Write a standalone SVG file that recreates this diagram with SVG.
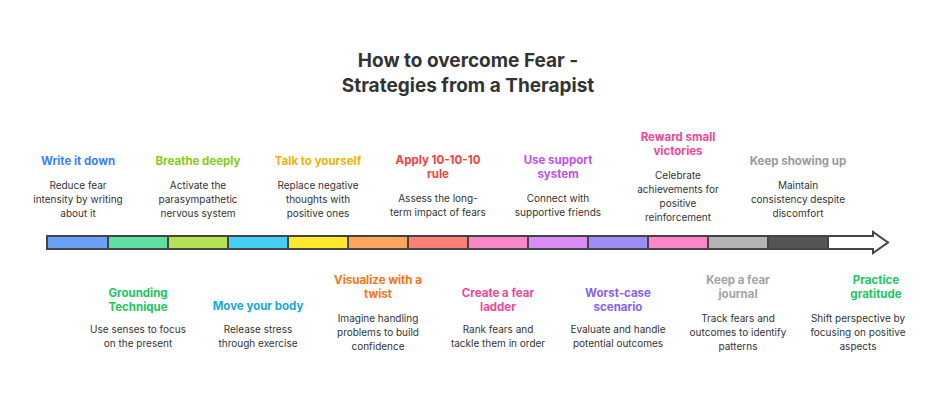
<svg xmlns="http://www.w3.org/2000/svg" width="936" height="402" viewBox="0 0 936 402">
<style>
text{font-family:Inter,"Liberation Sans",sans-serif;text-anchor:middle}
.t{font-size:19px;font-weight:700;fill:#333}
.h{font-size:11.5px;font-weight:700}
.d{font-size:10px;fill:#333}
.s{stroke:#444;stroke-width:0.8}
</style>
<rect width="936" height="402" fill="#fff"/>
<text class="t" x="468" y="67">How to overcome Fear -</text>
<text class="t" x="468" y="92">Strategies from a Therapist</text>
<g id="connectors">
<polygon points="47,236 873,236 873,232 888,242.5 873,253 873,249 47,249" fill="#fff" stroke="#444" stroke-width="2"/>
<rect x="48" y="237" width="60" height="11" fill="#6aa0f8"/>
<rect x="108" y="237" width="60" height="11" fill="#5ee0a0"/>
<rect x="168" y="237" width="60" height="11" fill="#b5e255"/>
<rect x="228" y="237" width="60" height="11" fill="#45cff5"/>
<rect x="288" y="237" width="60" height="11" fill="#fde82c"/>
<rect x="348" y="237" width="60" height="11" fill="#fda55a"/>
<rect x="408" y="237" width="60" height="11" fill="#fd7f78"/>
<rect x="468" y="237" width="60" height="11" fill="#fb86c8"/>
<rect x="528" y="237" width="60" height="11" fill="#d88cf6"/>
<rect x="588" y="237" width="60" height="11" fill="#9b8cf8"/>
<rect x="648" y="237" width="60" height="11" fill="#fb86c8"/>
<rect x="708" y="237" width="60" height="11" fill="#b3b3b3"/>
<rect x="768" y="237" width="60" height="11" fill="#555"/>
<path d="M108 236v13M168 236v13M228 236v13M288 236v13M348 236v13M408 236v13M468 236v13M528 236v13M588 236v13M648 236v13M708 236v13M768 236v13M828 236v13" stroke="#444" stroke-width="2"/>
</g>
<g id="n1"><text class="h" x="78" y="165" fill="#3b82f6">Write it down</text><text class="d" x="78" y="189">Reduce fear</text><text class="d" x="78" y="203">intensity by writing</text><text class="d" x="78" y="217">about it</text></g>
<g id="n2"><text class="h" x="138" y="297" fill="#22c55e">Grounding</text><text class="h" x="138" y="311" fill="#22c55e">Technique</text><text class="d" x="138" y="333">Use senses to focus</text><text class="d" x="138" y="347">on the present</text></g>
<g id="n3"><text class="h" x="198" y="165" fill="#84cc16">Breathe deeply</text><text class="d" x="198" y="189">Activate the</text><text class="d" x="198" y="203">parasympathetic</text><text class="d" x="198" y="217">nervous system</text></g>
<g id="n4"><text class="h" x="258" y="310" fill="#1aa9d8">Move your body</text><text class="d" x="258" y="333">Release stress</text><text class="d" x="258" y="347">through exercise</text></g>
<g id="n5"><text class="h" x="318" y="165" fill="#eab308">Talk to yourself</text><text class="d" x="318" y="189">Replace negative</text><text class="d" x="318" y="203">thoughts with</text><text class="d" x="318" y="217">positive ones</text></g>
<g id="n6"><text class="h" x="378" y="284" fill="#f97316">Visualize with a</text><text class="h" x="378" y="298" fill="#f97316">twist</text><text class="d" x="378" y="322">Imagine handling</text><text class="d" x="378" y="336">problems to build</text><text class="d" x="378" y="350">confidence</text></g>
<g id="n7"><text class="h" x="438" y="164" fill="#ef4444">Apply 10-10-10</text><text class="h" x="438" y="178" fill="#ef4444">rule</text><text class="d" x="438" y="202">Assess the long-</text><text class="d" x="438" y="216">term impact of fears</text></g>
<g id="n8"><text class="h" x="498" y="297" fill="#ec4899">Create a fear</text><text class="h" x="498" y="311" fill="#ec4899">ladder</text><text class="d" x="498" y="333">Rank fears and</text><text class="d" x="498" y="347">tackle them in order</text></g>
<g id="n9"><text class="h" x="558" y="164" fill="#c050f0">Use support</text><text class="h" x="558" y="178" fill="#c050f0">system</text><text class="d" x="558" y="202">Connect with</text><text class="d" x="558" y="216">supportive friends</text></g>
<g id="n10"><text class="h" x="618" y="297" fill="#8b5cf6">Worst-case</text><text class="h" x="618" y="311" fill="#8b5cf6">scenario</text><text class="d" x="618" y="333">Evaluate and handle</text><text class="d" x="618" y="347">potential outcomes</text></g>
<g id="n11"><text class="h" x="678" y="141" fill="#ec4899">Reward small</text><text class="h" x="678" y="155" fill="#ec4899">victories</text><text class="d" x="678" y="179">Celebrate</text><text class="d" x="678" y="193">achievements for</text><text class="d" x="678" y="207">positive</text><text class="d" x="678" y="216" visibility="hidden"></text><text class="d" x="678" y="221">reinforcement</text></g>
<g id="n12"><text class="h" x="738" y="284" fill="#a3a3a3">Keep a fear</text><text class="h" x="738" y="298" fill="#a3a3a3">journal</text><text class="d" x="738" y="322">Track fears and</text><text class="d" x="738" y="336">outcomes to identify</text><text class="d" x="738" y="350">patterns</text></g>
<g id="n13"><text class="h" x="798" y="165" fill="#9a9a9a">Keep showing up</text><text class="d" x="798" y="189">Maintain</text><text class="d" x="798" y="203">consistency despite</text><text class="d" x="798" y="217">discomfort</text></g>
<g id="n14"><text class="h" x="876" y="284" fill="#22c55e">Practice</text><text class="h" x="876" y="298" fill="#22c55e">gratitude</text><text class="d" x="858" y="322">Shift perspective by</text><text class="d" x="858" y="336">focusing on positive</text><text class="d" x="858" y="350">aspects</text></g>
</svg>
